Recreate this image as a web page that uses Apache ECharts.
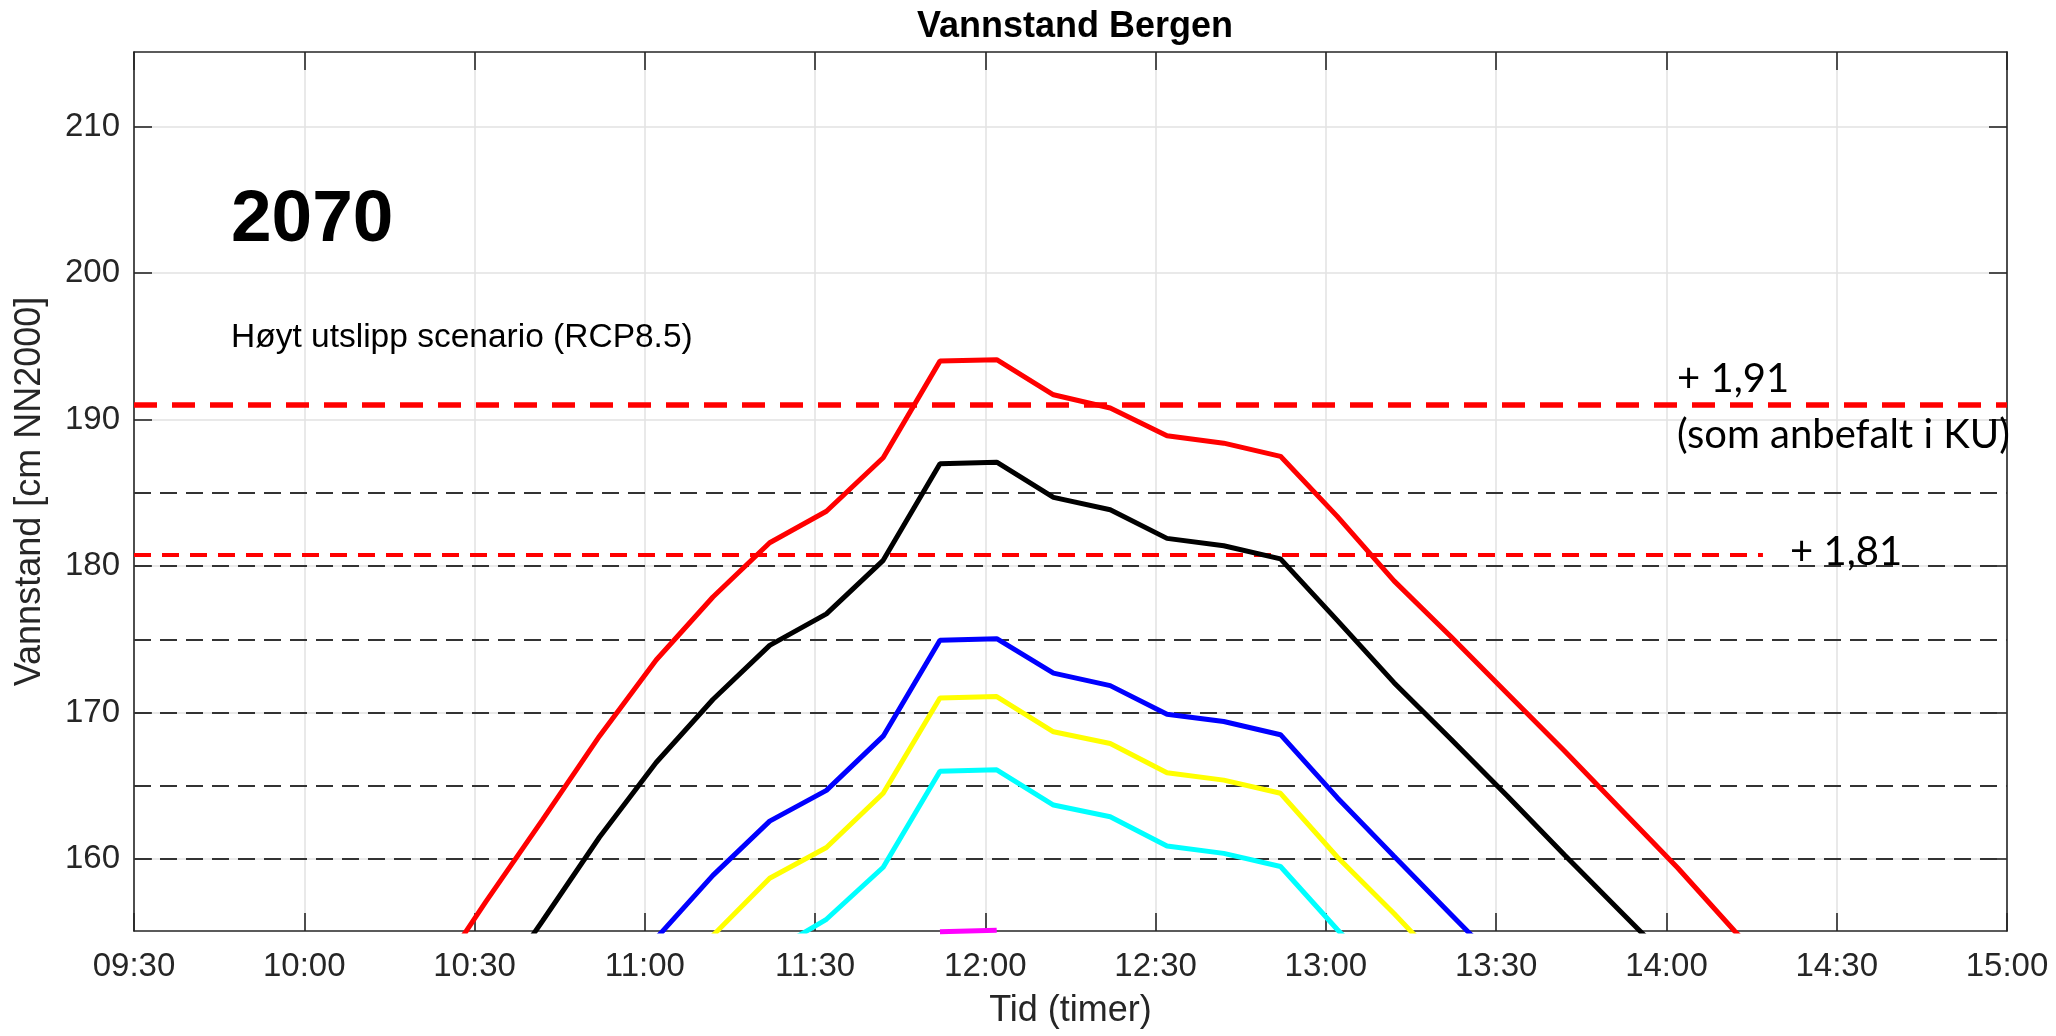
<!DOCTYPE html>
<html><head><meta charset="utf-8">
<script src="https://cdn.jsdelivr.net/npm/echarts@6/dist/echarts.min.js"></script>
<style>html,body{margin:0;padding:0;background:#fff}#c{width:2056px;height:1036px}</style>
</head><body><div id="c"></div>
<script>
// ---- data ----
const times = ['10:22','10:32','10:42','10:52','11:02','11:12','11:22','11:32','11:42','11:52','12:02','12:12','12:22','12:32','12:42','12:52','13:02','13:12','13:22','13:32','13:42','13:52','14:02','14:12','14:22'];
const redSeries    = [151.3,157.1,162.7,168.4,173.6,177.9,181.6,183.75,187.4,194.0,194.1,191.7,190.8,188.9,188.4,187.5,183.4,179.0,175.2,171.3,167.4,163.4,159.4,155.1,151.0];
const blackSeries  = [null,150.2,155.8,161.5,166.6,170.9,174.6,176.75,180.4,187.0,187.1,184.7,183.85,181.9,181.4,180.5,176.3,172.05,168.2,164.3,160.3,156.4,152.5,null,null];
const blueSeries   = [null,null,null,null,154.6,158.9,162.6,164.7,168.4,174.95,175.05,172.7,171.85,169.9,169.4,168.5,164.2,160.2,156.25,152.3,null,null,null,null,null];
const yellowSeries = [null,null,null,null,null,154.8,158.7,160.8,164.5,171.0,171.1,168.7,167.9,165.9,165.4,164.5,160.15,156.3,152.2,null,null,null,null,null,null];
const cyanSeries   = [null,null,null,null,null,null,153.6,155.9,159.45,166.0,166.1,163.7,162.9,160.9,160.4,159.5,155.2,151.2,null,null,null,null,null,null,null];
const magentaSeries= [null,null,null,null,null,null,null,null,null,155.05,155.15,null,null,null,null,null,null,null,null,null,null,null,null,null,null];
const xTicks = ['09:30','10:00','10:30','11:00','11:30','12:00','12:30','13:00','13:30','14:00','14:30','15:00'];
const yTicks = [160,170,180,190,200,210];
const refLevels = [160,165,170,175,180,185];
const level191 = 191.0;
const level181 = 180.8;
const level181End = '14:17';
const yMin = 155.1, yMax = 215.1;

function toMin(s){const p=s.split(':');return (+p[0])*60+(+p[1]);}
function fmt(v){const h=Math.floor(v/60),m=Math.round(v%60);return String(h).padStart(2,'0')+':'+String(m).padStart(2,'0');}
function pairs(arr){return times.map((t,i)=>[toMin(t),arr[i]]);}

const xMin = toMin(xTicks[0]), xMax = toMin(xTicks[xTicks.length-1]);
const axisColor = '#262626';
const FONT = 'Liberation Sans, Arial, Helvetica, sans-serif';

function dataLine(name, arr, color, extra){
  return Object.assign({name, type:'line', data:pairs(arr), symbol:'none', showSymbol:false,
    lineStyle:{color, width:5}, itemStyle:{color}, z:5, connectNulls:false}, extra||{});
}

const chart = echarts.init(document.getElementById('c'), null, {renderer:'canvas'});
chart.setOption({
  animation:false,
  backgroundColor:'#fff',
  title:{text:'Vannstand Bergen', left:1070, textAlign:'center', top:4,
    textStyle:{fontFamily:FONT, fontWeight:'bold', fontSize:36, color:'#000'}},
  grid:{left:134, top:52, right:49, bottom:105},
  xAxis:[{
    type:'value', min:xMin, max:xMax, interval:30,
    name:'Tid (timer)', nameLocation:'middle', nameGap:62,
    nameTextStyle:{fontFamily:FONT, fontSize:36, color:axisColor},
    axisLine:{show:true, onZero:false, lineStyle:{color:axisColor, width:1.6}},
    axisTick:{show:true, inside:true, length:18, lineStyle:{color:axisColor, width:1.6}},
    axisLabel:{fontFamily:FONT, fontSize:33, color:axisColor, margin:19, formatter:v=>fmt(v)},
    splitLine:{show:true, lineStyle:{color:'#e2e2e2', width:1.5}}
  },{
    type:'value', position:'top', min:xMin, max:xMax, interval:30,
    axisLine:{show:true, onZero:false, lineStyle:{color:axisColor, width:1.6}},
    axisTick:{show:true, inside:true, length:18, lineStyle:{color:axisColor, width:1.6}},
    axisLabel:{show:false}, splitLine:{show:false}
  }],
  yAxis:[{
    type:'value', min:yMin, max:yMax,
    name:'Vannstand [cm NN2000]', nameLocation:'middle', nameGap:86,
    nameTextStyle:{fontFamily:FONT, fontSize:36, color:axisColor},
    axisLine:{show:true, onZero:false, lineStyle:{color:axisColor, width:1.6}},
    axisTick:{show:true, inside:true, length:18, customValues:yTicks, lineStyle:{color:axisColor, width:1.6}},
    axisLabel:{fontFamily:FONT, fontSize:33, color:axisColor, margin:14, customValues:yTicks},
    splitLine:{show:true, lineStyle:{color:'#e2e2e2', width:1.5}}
  },{
    type:'value', position:'right', min:yMin, max:yMax,
    axisLine:{show:true, onZero:false, lineStyle:{color:axisColor, width:1.6}},
    axisTick:{show:true, inside:true, length:18, customValues:yTicks, lineStyle:{color:axisColor, width:1.6}},
    axisLabel:{show:false, customValues:yTicks}, splitLine:{show:false}
  }],
  graphic:[
    {type:'text', x:231, y:220.5, style:{text:'2070', font:'bold 73px '+FONT, fill:'#000', textAlign:'left', textVerticalAlign:'middle'}, z:10},
    {type:'text', x:231, y:338, style:{text:'Høyt utslipp scenario (RCP8.5)', font:'33.5px '+FONT, fill:'#000', textAlign:'left', textVerticalAlign:'middle'}, z:10},
    {type:'text', x:1677, y:379, style:{text:'+ 1,91', font:'40px Lato, "Open Sans", sans-serif', fill:'#000', textAlign:'left', textVerticalAlign:'middle'}, z:10},
    {type:'text', x:1677, y:435, style:{text:'(som anbefalt i KU)', font:'40px Lato, "Open Sans", sans-serif', fill:'#000', textAlign:'left', textVerticalAlign:'middle'}, z:10},
    {type:'text', x:1790, y:552, style:{text:'+ 1,81', font:'40px Lato, "Open Sans", sans-serif', fill:'#000', textAlign:'left', textVerticalAlign:'middle'}, z:10}
  ],
  series:[
    {type:'line', data:[], symbol:'none', z:2,
      markLine:{silent:true, symbol:'none', label:{show:false},
        lineStyle:{color:'#333', width:2.2, type:[17,9]},
        data:refLevels.map(v=>({yAxis:v}))}},
    {type:'line', data:[], symbol:'none', z:2,
      markLine:{silent:true, symbol:'none', label:{show:false},
        lineStyle:{color:'#ff0000', width:5.5, type:[23,15]},
        data:[{yAxis:level191}]}},
    {type:'line', data:[], symbol:'none', z:2,
      markLine:{silent:true, symbol:'none', label:{show:false},
        lineStyle:{color:'#ff0000', width:3.8, type:[17,11]},
        data:[[{coord:[xMin,level181]},{coord:[toMin(level181End),level181]}]]}},
    dataLine('red', redSeries, '#ff0000'),
    dataLine('black', blackSeries, '#000000'),
    dataLine('blue', blueSeries, '#0000ff'),
    dataLine('yellow', yellowSeries, '#ffff00'),
    dataLine('cyan', cyanSeries, '#00ffff'),
    dataLine('magenta', magentaSeries, '#ff00ff', {clip:false})
  ]
});
</script></body></html>
